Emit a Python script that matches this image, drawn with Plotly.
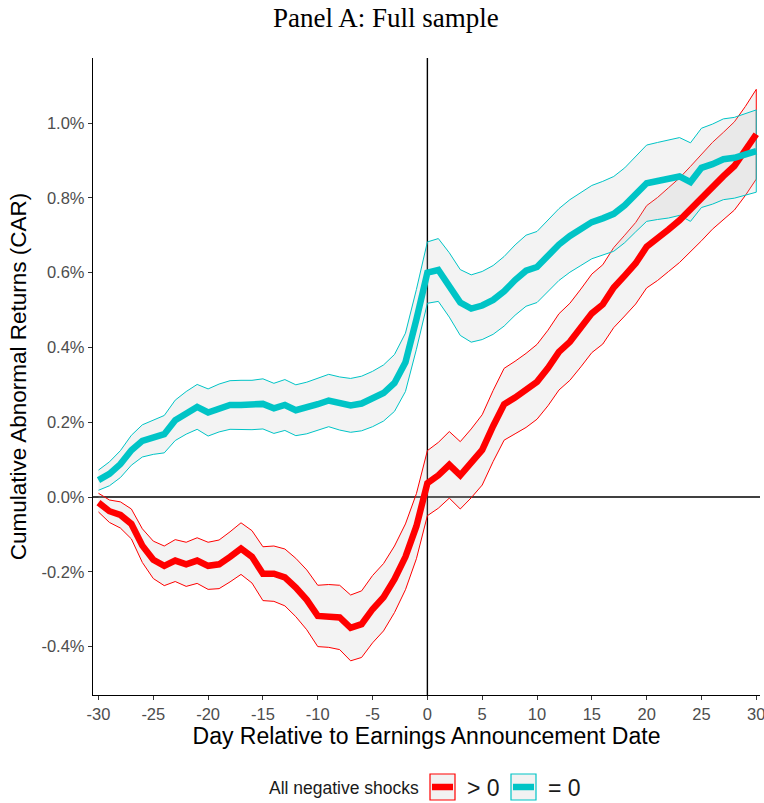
import plotly.graph_objects as go

# Event window (days relative to the earnings announcement)
days = list(range(-30, 31))

# Cumulative abnormal returns, in percent
car_pos = [
    -0.015, -0.038, -0.048, -0.072, -0.130, -0.168, -0.184, -0.170, -0.180, -0.170,
    -0.184, -0.180, -0.160, -0.138, -0.160, -0.205, -0.205, -0.215, -0.242, -0.275,
    -0.318, -0.318, -0.322, -0.350, -0.340, -0.300, -0.268, -0.220, -0.160, -0.078,
    0.037, 0.058, 0.086, 0.058, 0.090, 0.126, 0.190, 0.248, 0.266, 0.285,
    0.308, 0.345, 0.388, 0.415, 0.452, 0.491, 0.515, 0.560, 0.592, 0.625,
    0.669, 0.690, 0.715, 0.740, 0.770, 0.800, 0.832, 0.858, 0.885, 0.925,
    0.970,
]
car_zero = [
    0.045, 0.062, 0.088, 0.125, 0.150, 0.160, 0.168, 0.205, 0.225, 0.241,
    0.226, 0.238, 0.246, 0.246, 0.246, 0.249, 0.237, 0.246, 0.232, 0.238,
    0.248, 0.258, 0.250, 0.245, 0.250, 0.262, 0.278, 0.305, 0.360, 0.475,
    0.600, 0.607, 0.567, 0.520, 0.504, 0.512, 0.527, 0.550, 0.580, 0.605,
    0.615, 0.645, 0.675, 0.698, 0.716, 0.735, 0.745, 0.757, 0.780, 0.810,
    0.839, 0.845, 0.850, 0.857, 0.842, 0.880, 0.890, 0.903, 0.907, 0.915,
    0.925,
]

# Half-widths of the confidence bands, in percent
ci_pos = [
    0.025, 0.030, 0.035, 0.040, 0.045, 0.050, 0.053, 0.056, 0.059, 0.061,
    0.063, 0.065, 0.067, 0.069, 0.070, 0.072, 0.074, 0.076, 0.078, 0.080,
    0.082, 0.084, 0.086, 0.088, 0.089, 0.090, 0.090, 0.089, 0.088, 0.087,
    0.087, 0.088, 0.089, 0.090, 0.092, 0.094, 0.095, 0.096, 0.097, 0.099,
    0.100, 0.101, 0.102, 0.103, 0.104, 0.105, 0.106, 0.107, 0.108, 0.109,
    0.110, 0.111, 0.112, 0.113, 0.114, 0.115, 0.116, 0.117, 0.118, 0.119,
    0.120,
]
ci_zero = [
    0.027, 0.032, 0.036, 0.040, 0.043, 0.046, 0.050, 0.054, 0.057, 0.060,
    0.063, 0.064, 0.065, 0.066, 0.066, 0.067, 0.067, 0.068, 0.068, 0.069,
    0.070, 0.070, 0.071, 0.072, 0.073, 0.074, 0.075, 0.076, 0.078, 0.080,
    0.082, 0.084, 0.086, 0.088, 0.090, 0.091, 0.092, 0.093, 0.094, 0.095,
    0.095, 0.096, 0.096, 0.097, 0.097, 0.098, 0.099, 0.100, 0.100, 0.101,
    0.102, 0.103, 0.104, 0.104, 0.105, 0.106, 0.107, 0.108, 0.108, 0.109,
    0.110,
]

x_ticks = list(range(-30, 31, 5))
y_ticks = [-0.4, -0.2, 0.0, 0.2, 0.4, 0.6, 0.8, 1.0]

groups = [
    ("> 0", car_pos, ci_pos, "#FF0000"),
    ("= 0", car_zero, ci_zero, "#00C4C6"),
]

W, H = 764, 803
ML, MR, MT, MB = 93, 4, 58, 108

fig = go.Figure()

# Confidence ribbons: closed polygons with coloured outline
for name, mean, ci, col in groups:
    upper = [m + c for m, c in zip(mean, ci)]
    lower = [m - c for m, c in zip(mean, ci)]
    fig.add_trace(go.Scatter(
        x=days + days[::-1], y=upper + lower[::-1],
        mode="lines", fill="toself",
        fillcolor="rgba(190,190,190,0.18)",
        line=dict(color=col, width=1),
        hoverinfo="skip", showlegend=False,
    ))

# Mean CAR paths
for name, mean, ci, col in groups:
    fig.add_trace(go.Scatter(
        x=days, y=mean, mode="lines", name=name,
        line=dict(color=col, width=6.5),
        showlegend=False,
    ))

# Reference lines at the announcement day and at zero return
fig.add_vline(x=0, line=dict(color="black", width=1.4), layer="below")
fig.add_hline(y=0, line=dict(color="black", width=1.4), layer="below")

# Legend drawn as ggplot-style keys
def px_x(p):
    return (p - ML) / (W - ML - MR)

def px_y(p):
    return (H - MB - p) / (H - MT - MB)

key_top, key_bot, key_mid = 774, 800, 787
keys = [(430, 455, "> 0", "#FF0000"), (511, 536, "= 0", "#00C4C6")]
for x0, x1, label, col in keys:
    fig.add_shape(type="rect", xref="paper", yref="paper",
                  x0=px_x(x0), x1=px_x(x1), y0=px_y(key_bot), y1=px_y(key_top),
                  line=dict(color=col, width=1.2), fillcolor="#F2F2F2")
    fig.add_shape(type="line", xref="paper", yref="paper",
                  x0=px_x(x0 + 2), x1=px_x(x1 - 2), y0=px_y(key_mid), y1=px_y(key_mid),
                  line=dict(color=col, width=6.5))
    fig.add_annotation(xref="paper", yref="paper", x=px_x(x1 + 10), y=px_y(key_mid + 1),
                       text=label, showarrow=False, xanchor="left", yanchor="middle",
                       font=dict(family="Liberation Sans, Arial", size=23, color="#1A1A1A"))
fig.add_annotation(xref="paper", yref="paper", x=px_x(421), y=px_y(key_mid + 1),
                   text="All negative shocks", showarrow=False,
                   xanchor="right", yanchor="middle",
                   font=dict(family="Liberation Sans, Arial", size=17.5, color="#1A1A1A"))

tick_font = dict(family="Liberation Sans, Arial", size=16.5, color="#4D4D4D")
x_title_font = dict(family="Liberation Sans, Arial", size=23, color="black")
y_title_font = dict(family="Liberation Sans, Arial", size=22.5, color="black")

fig.update_layout(
    width=W, height=H,
    margin=dict(l=ML, r=MR, t=MT, b=MB),
    paper_bgcolor="white", plot_bgcolor="white",
    title=dict(text="Panel A: Full sample", x=0.505, xref="container", xanchor="center",
               y=1 - 18 / H, yref="container", yanchor="middle",
               font=dict(family="Liberation Serif, serif", size=27, color="black")),
    xaxis=dict(
        range=[-30.5, 30.34], tickvals=x_ticks,
        ticktext=[str(v) for v in x_ticks],
        ticklabeloverflow="allow", automargin=False,
        showgrid=False, zeroline=False,
        showline=True, linecolor="black", linewidth=1.3,
        ticks="outside", ticklen=4, tickcolor="#333333", tickwidth=1,
        tickfont=tick_font,
        title=dict(text="Day Relative to Earnings Announcement Date", font=x_title_font, standoff=4),
    ),
    yaxis=dict(
        range=[-0.5294, 1.1738], tickvals=y_ticks,
        ticktext=[f"{v:.1f}%" for v in y_ticks],
        automargin=False,
        showgrid=False, zeroline=False,
        showline=True, linecolor="black", linewidth=1.3,
        ticks="outside", ticklen=4, tickcolor="#333333", tickwidth=1,
        tickfont=tick_font,
        title=dict(text="Cumulative Abnormal Returns (CAR)", font=y_title_font, standoff=8),
    ),
)

fig.write_html("out.html")
